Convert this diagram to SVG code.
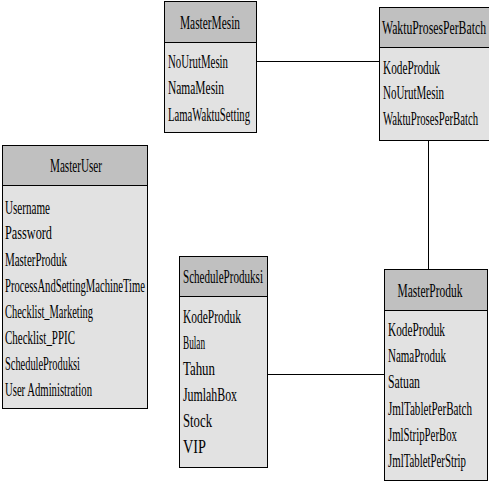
<svg xmlns="http://www.w3.org/2000/svg" width="489" height="483" viewBox="0 0 489 483">
<style>
.hd{fill:#c0c0c0;stroke:#000;stroke-width:1}
.bd{fill:#e2e2e2;stroke:#000;stroke-width:1}
text{font-family:"Liberation Serif","Times New Roman",serif;font-size:19px;fill:#000}
.c{text-anchor:middle}
.ln{stroke:#000;stroke-width:1;fill:none}
</style>
<rect width="489" height="483" fill="#fff"/>
<g id="connectors">
<line class="ln" x1="256" y1="61.5" x2="379" y2="61.5"/>
<line class="ln" x1="428.5" y1="140" x2="428.5" y2="269"/>
<line class="ln" x1="267" y1="374.5" x2="384" y2="374.5"/>
</g>
<g id="MasterMesin">
<rect class="bd" x="164.5" y="1.5" width="92" height="131"/>
<rect class="hd" x="164.5" y="1.5" width="92" height="41"/>
<text class="c" x="210" y="29" textLength="60" lengthAdjust="spacingAndGlyphs">MasterMesin</text>
<text x="168" y="68" textLength="60" lengthAdjust="spacingAndGlyphs">NoUrutMesin</text>
<text x="168" y="94" textLength="56" lengthAdjust="spacingAndGlyphs">NamaMesin</text>
<text x="168" y="121" textLength="82" lengthAdjust="spacingAndGlyphs">LamaWaktuSetting</text>
</g>
<g id="WaktuProsesPerBatch">
<rect class="bd" x="379.5" y="7.5" width="110" height="133"/>
<rect class="hd" x="379.5" y="7.5" width="110" height="40"/>
<text class="c" x="434" y="34" textLength="104" lengthAdjust="spacingAndGlyphs">WaktuProsesPerBatch</text>
<text x="383" y="74" textLength="57" lengthAdjust="spacingAndGlyphs">KodeProduk</text>
<text x="383" y="99" textLength="61" lengthAdjust="spacingAndGlyphs">NoUrutMesin</text>
<text x="383" y="125" textLength="95" lengthAdjust="spacingAndGlyphs">WaktuProsesPerBatch</text>
</g>
<g id="MasterUser">
<rect class="bd" x="2.5" y="145.5" width="145" height="263"/>
<rect class="hd" x="2.5" y="145.5" width="145" height="40"/>
<text class="c" x="76" y="172" textLength="52" lengthAdjust="spacingAndGlyphs">MasterUser</text>
<text x="5" y="214" textLength="45" lengthAdjust="spacingAndGlyphs">Username</text>
<text x="5" y="239" textLength="47" lengthAdjust="spacingAndGlyphs">Password</text>
<text x="5" y="266" textLength="62" lengthAdjust="spacingAndGlyphs">MasterProduk</text>
<text x="5" y="292" textLength="140" lengthAdjust="spacingAndGlyphs">ProcessAndSettingMachineTime</text>
<text x="5" y="318" textLength="88" lengthAdjust="spacingAndGlyphs">Checklist_Marketing</text>
<text x="5" y="344" textLength="70" lengthAdjust="spacingAndGlyphs">Checklist_PPIC</text>
<text x="5" y="370" textLength="75" lengthAdjust="spacingAndGlyphs">ScheduleProduksi</text>
<text x="5" y="396" textLength="87" lengthAdjust="spacingAndGlyphs">User Administration</text>
</g>
<g id="ScheduleProduksi">
<rect class="bd" x="179.5" y="256.5" width="88" height="211"/>
<rect class="hd" x="179.5" y="256.5" width="88" height="40"/>
<text class="c" x="223" y="283" textLength="80" lengthAdjust="spacingAndGlyphs">ScheduleProduksi</text>
<text x="183" y="323" textLength="58" lengthAdjust="spacingAndGlyphs">KodeProduk</text>
<text x="183" y="349" textLength="22" lengthAdjust="spacingAndGlyphs">Bulan</text>
<text x="183" y="375" textLength="32" lengthAdjust="spacingAndGlyphs">Tahun</text>
<text x="183" y="401" textLength="54" lengthAdjust="spacingAndGlyphs">JumlahBox</text>
<text x="183" y="427" textLength="29" lengthAdjust="spacingAndGlyphs">Stock</text>
<text x="183" y="453" textLength="23" lengthAdjust="spacingAndGlyphs">VIP</text>
</g>
<g id="MasterProduk">
<rect class="bd" x="384.5" y="269.5" width="103" height="211"/>
<rect class="hd" x="384.5" y="269.5" width="103" height="41"/>
<text class="c" x="430" y="297" textLength="65" lengthAdjust="spacingAndGlyphs">MasterProduk</text>
<text x="388" y="336" textLength="57" lengthAdjust="spacingAndGlyphs">KodeProduk</text>
<text x="388" y="362" textLength="58" lengthAdjust="spacingAndGlyphs">NamaProduk</text>
<text x="388" y="388" textLength="32" lengthAdjust="spacingAndGlyphs">Satuan</text>
<text x="388" y="415" textLength="84" lengthAdjust="spacingAndGlyphs">JmlTabletPerBatch</text>
<text x="388" y="441" textLength="69" lengthAdjust="spacingAndGlyphs">JmlStripPerBox</text>
<text x="388" y="467" textLength="78" lengthAdjust="spacingAndGlyphs">JmlTabletPerStrip</text>
</g>
</svg>
